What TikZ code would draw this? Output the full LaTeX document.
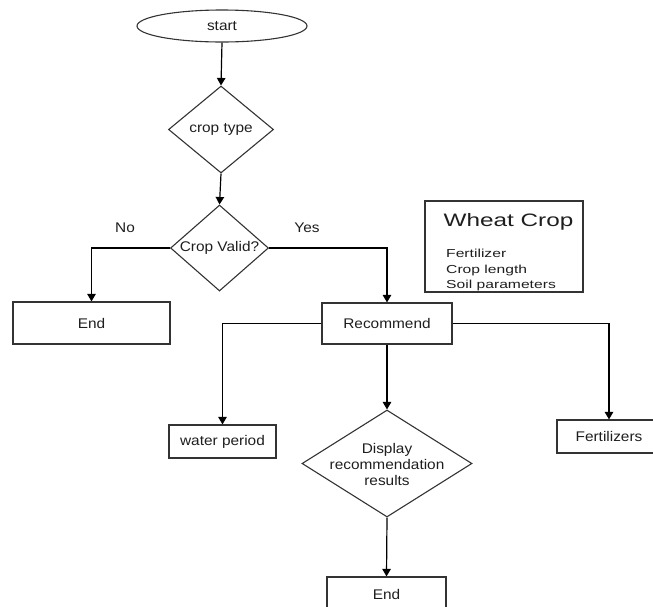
\documentclass[tikz,border=0pt]{standalone}
\usepackage{fontspec}
\setmainfont{Liberation Sans}[FakeStretch=1.1]
\newfontfamily\wheatfont{Liberation Sans}[FakeStretch=1.35]
\usetikzlibrary{shapes.geometric,arrows.meta}
\definecolor{edge}{HTML}{333333}
\definecolor{ink}{HTML}{1E1E1E}
\begin{document}
\begin{tikzpicture}[x=1pt,y=-1pt,
  font=\fontsize{14}{16}\selectfont, text=ink,
  box/.style={draw=edge, line width=1.2pt, rectangle, inner sep=0pt},
  decision/.style={draw=edge, line width=1.1pt, diamond, inner sep=0pt},
  terminal/.style={draw=edge, line width=1.1pt, ellipse, inner sep=0pt},
  flow/.style={draw=black, line width=1.2pt, -{Triangle[width=8.5pt,length=7.5pt]}},
  lbl/.style={inner sep=0pt, anchor=center},
  wline/.style={inner sep=0pt, anchor=base west, font=\wheatfont\fontsize{11.6}{13}\selectfont}]
\useasboundingbox (0,0) rectangle (653,606);
\clip (0,0) rectangle (653,606);

% nodes
\node[terminal, minimum width=170pt, minimum height=32pt] (start) at (222,26) {start};
\node[decision, minimum width=105pt, minimum height=87pt] (ctype) at (221,129.5) {};
\node[lbl] (ctypet) at (221,129.5) {crop type};
\node[decision, minimum width=98pt, minimum height=86pt] (valid) at (219.5,248) {};
\node[lbl] (validt) at (219.5,248) {Crop Valid?};
\node[box, minimum width=157pt, minimum height=42pt] (end1) at (91.5,323) {End};
\node[box, minimum width=130pt, minimum height=41pt] (rec) at (387,323.5) {Recommend};
\node[box, minimum width=107pt, minimum height=33pt] (water) at (222.5,441.5) {water period};
\node[box, minimum width=104pt, minimum height=33pt] (fert) at (609,436.5) {Fertilizers};
\node[decision, minimum width=170pt, minimum height=107pt] (disp) at (387,463.5) {};
\node[lbl, align=center] (dispt) at (387,464) {Display\\recommendation\\results};
\node[box, minimum width=119pt, minimum height=34pt] (end2) at (386.5,594) {End};

% information panel
\node[box, minimum width=158pt, minimum height=91pt] (wheat) at (504,246.5) {};
\node[inner sep=0pt, anchor=base west, font=\wheatfont\fontsize{18}{21}\selectfont] (wtitle) at (443.5,226.5) {Wheat Crop};
\node[wline] (w1) at (446,257.5) {Fertilizer};
\node[wline] (w2) at (446,273) {Crop length};
\node[wline] (w3) at (446,288.5) {Soil parameters};
\fill[white] (wheat.south west) ++(1pt,0.6pt) rectangle ([xshift=-1pt,yshift=-4pt]wheat.south east);
\draw[edge, line width=1.2pt] (wheat.south west) -- (wheat.south east);

% branch labels
\node[lbl] (nolbl) at (125,228) {No};
\node[lbl] (yeslbl) at (307,228) {Yes};

% connectors
\draw[flow] (start.south) -- (ctype.north);
\draw[flow] (ctype.south) -- (valid.north);
\draw[flow] (valid.west) -| (end1.north);
\draw[flow] (valid.east) -| (rec.north);
\draw[flow] (rec.west) -| (water.north);
\draw[flow] (rec.east) -| (fert.north);
\draw[flow] (rec.south) -- (disp.north);
\draw[flow] (disp.south) -- (end2.north);
\end{tikzpicture}
\end{document}
